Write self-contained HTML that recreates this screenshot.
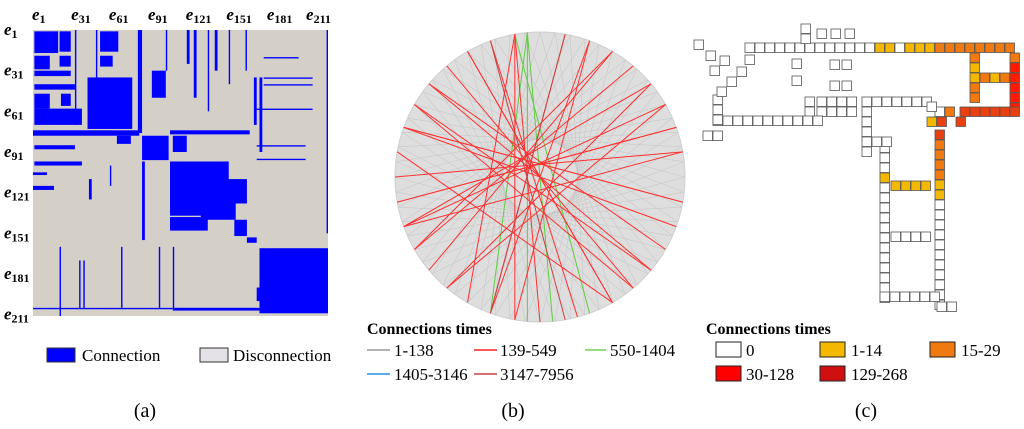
<!DOCTYPE html>
<html><head><meta charset="utf-8">
<style>
html,body{margin:0;padding:0;background:#fff;}
svg{display:block;font-family:"Liberation Serif",serif;}
</style></head>
<body>
<svg id="fig" width="1024" height="429" viewBox="0 0 1024 429" xmlns="http://www.w3.org/2000/svg">
  <g id="panelA">
    <rect x="33" y="30" width="295" height="286" fill="#d4d0c8"/>
    <g id="matBlocks"></g>
    <g id="matTicks" font-weight="bold" font-style="italic" font-size="17"></g>
  </g>
  <g id="panelB">
    <circle cx="540" cy="177" r="145" fill="#dedede" stroke="#cfcfcf"/>
    <g id="chords"></g>
  </g>
  <g id="panelC">
    <g id="cells"></g>
  </g>
  <g font-size="17">
    <rect x="47" y="348" width="28" height="14" fill="#0000ff" stroke="#333"/>
    <text x="82" y="361">Connection</text>
    <rect x="200" y="348" width="28" height="14" fill="#e4e2e6" stroke="#333"/>
    <text x="233" y="361">Disconnection</text>
  </g>
  <g font-size="17">
    <text x="367" y="334" font-weight="bold" font-size="16">Connections times</text>
    <line x1="367" y1="350" x2="390" y2="350" stroke="#999" stroke-width="1.5"/>
    <text x="394" y="356">1-138</text>
    <line x1="474" y1="350" x2="497" y2="350" stroke="#ff2020" stroke-width="1.5"/>
    <text x="500" y="356">139-549</text>
    <line x1="585" y1="350" x2="606" y2="350" stroke="#70d050" stroke-width="1.5"/>
    <text x="610" y="356">550-1404</text>
    <line x1="367" y1="374" x2="390" y2="374" stroke="#2090e0" stroke-width="1.5"/>
    <text x="394" y="380">1405-3146</text>
    <line x1="474" y1="374" x2="497" y2="374" stroke="#c84040" stroke-width="1.5"/>
    <text x="500" y="380">3147-7956</text>
  </g>
  <g font-size="17">
    <text x="706" y="334" font-weight="bold" font-size="16">Connections times</text>
    <rect x="716" y="342" width="25" height="15" fill="#fff" stroke="#222"/>
    <text x="746" y="356">0</text>
    <rect x="820" y="342" width="25" height="15" fill="#f5b800" stroke="#222"/>
    <text x="851" y="356">1-14</text>
    <rect x="930" y="342" width="25" height="15" fill="#f07a10" stroke="#222"/>
    <text x="961" y="356">15-29</text>
    <rect x="716" y="366" width="25" height="15" fill="#ff0000" stroke="#222"/>
    <text x="746" y="380">30-128</text>
    <rect x="820" y="366" width="25" height="15" fill="#d01010" stroke="#222"/>
    <text x="851" y="380">129-268</text>
  </g>
  <text x="145" y="417" font-size="20" text-anchor="middle">(a)</text>
  <text x="513" y="417" font-size="20" text-anchor="middle">(b)</text>
  <text x="866" y="417" font-size="20" text-anchor="middle">(c)</text>
</svg>
<script>
const NS="http://www.w3.org/2000/svg";
// ---- panel (a) data
const matTickLabels=["1","31","61","91","121","151","181","211"];
const colTickIdx=[0,28,55,83,110,139,168,196];
const rowTickIdx=[0,30,60,90,120,150,180,210];
const matBlocks=[
 [1,18,1,17],[19,27,1,16],[48,61,1,16],[1,12,19,29],[19,27,19,27],[48,57,19,27],
 [39,71,35,73],[1,12,47,58],[20,27,47,56],[1,35,58,70],[1,27,30,34],[1,30,40,44],
 [78,97,78,96],[98,140,97,137],[120,145,110,140],[144,153,110,128],[144,153,140,152],
 [98,125,138,148],[100,110,78,90],
 [162,211,161,209],[160,175,190,200],[0,76,74,78],[75,78,0,76],[98,155,74,77],
 [78,80,97,155],[153,160,153,157],[0,15,115,118],[0,10,105,107],[1,35,97,100],
 [60,70,78,84],[1,30,85,88],[85,95,30,50]
];
const matLines=[
 [40,42,110,125],[55,56,100,115],[95,96,0,30],[110,112,0,25],[125,126,0,60],[140,141,0,40],
 [152,153,0,30],[165,190,20,21],[165,200,35,36],[165,200,40,41],[210,211,0,150],
 [19,20,160,211],[33,34,170,205],[36,37,170,205],[63,64,160,205],[90,91,160,205],
 [100,101,160,205],[0,160,205,206],[100,170,205,207],[160,200,58,59],[160,195,85,86],[160,195,95,96],
 [115,117,0,50],[130,132,0,30],[158,160,35,70],[162,164,35,90],[30,31,0,70],[45,46,0,60]
];
const mx=i=>33+i*295/211, my=j=>30+j*286/211;
const mb=document.getElementById('matBlocks');
function addRect(g,x,y,w,h,fill){const r=document.createElementNS(NS,'rect');r.setAttribute('x',x);r.setAttribute('y',y);r.setAttribute('width',w);r.setAttribute('height',h);r.setAttribute('fill',fill);g.appendChild(r);return r;}
matBlocks.forEach(b=>{
 const r=addRect(mb,mx(b[0]),my(b[2]),mx(b[1])-mx(b[0]),my(b[3])-my(b[2]),'#0000ff');
 
 
});
matLines.forEach(b=>{
 const r=addRect(mb,mx(b[0]),my(b[2]),mx(b[1])-mx(b[0]),my(b[3])-my(b[2]),'#0000ff');
 
 
});
const mt=document.getElementById('matTicks');
matTickLabels.forEach((lab,n)=>{
 const t=document.createElementNS(NS,'text');t.setAttribute('x',mx(colTickIdx[n])-1);t.setAttribute('y',20);
 t.innerHTML='e<tspan font-size="12" font-style="normal" dy="3">'+lab+'</tspan>';
 
 
 mt.appendChild(t);
 const s=document.createElementNS(NS,'text');s.setAttribute('x',4);s.setAttribute('y',my(rowTickIdx[n])+5);
 s.innerHTML='e<tspan font-size="12" font-style="normal" dy="3">'+lab+'</tspan>';
 
 
 mt.appendChild(s);
});
// ---- panel (b) data
const chordFrom=[95,95,95,100,100,100,60,40,20,140,160,180,200,220,250,270,300,320,340,10,30,70,120,150,170,230,260,285,310,350,80,110,130,190,210];
const chordTo  =[265,275,250,290,260,240,210,200,190,330,350,10,30,60,80,100,120,140,160,200,230,250,300,320,300,40,70,110,150,160,250,280,310,20,50];
const chordClass=[2,2,2,2,1,1,1,1,1,1,1,1,1,1,1,1,1,1,1,1,1,1,1,1,1,1,1,1,1,1,4,4,1,1,1];
const classColor=['#999','#ff3030','#60cc40','#2090e0','#c84040'];
const ch=document.getElementById('chords');
const cx=540,cy=177,R=145;
const px=a=>cx+R*Math.cos(a*Math.PI/180), py=a=>cy-R*Math.sin(a*Math.PI/180);
for(let a=0;a<360;a+=6){
 const l=document.createElementNS(NS,'line');
 l.setAttribute('x1',px(a));l.setAttribute('y1',py(a));l.setAttribute('x2',px(a+150));l.setAttribute('y2',py(a+150));
 l.setAttribute('stroke','#c8c8c8');l.setAttribute('stroke-width','0.6');
 
 
 ch.appendChild(l);
}
chordFrom.forEach((f,k)=>{
 const l=document.createElementNS(NS,'line');
 l.setAttribute('x1',px(f));l.setAttribute('y1',py(f));l.setAttribute('x2',px(chordTo[k]));l.setAttribute('y2',py(chordTo[k]));
 l.setAttribute('stroke',classColor[chordClass[k]]);l.setAttribute('stroke-width','1');
 
 
 ch.appendChild(l);
});
// ---- panel (c) data
const colorMap={w:'#ffffff',y:'#f5b800',o:'#f07a10',r:'#ff1a00',d:'#e84010'};
const runX=[745,1010,970,980,960,945,935,880,891,891,880,862,862,805,817,817,713,713,801,817,792,830,830,703,937,872];
const runY=[43,53,53,73,107,107,130,143,181,232,292,107,97,97,97,107,116,95,24,29,59,60,81,131,302,137];
const runDX=[10,0,0,10,10,-10,0,0,10,10,10,0,10,0,10,10,10,0,0,14,0,12,12,10,10,10];
const runDY=[0,10,10,0,0,0,10,10,0,0,0,10,0,10,0,0,0,10,10,0,17,0,0,0,0,0];
const runColors=["wwwwwwwwwwwwwyywyyyoooooooo","orrrrr","oyyoo","oyo","dddddd","ow","dooooyywwwwwwwwwww","wwwywwwwwwwwwwww","yyyy","wwww","wwwwww","wwwww","wwwwwww","ww","wwww","wwww","wwwwwwwwwww","www","ww","www","ww","ww","ww","ww","ww","ww"];
const cg=document.getElementById('cells');
runX.forEach((x0,k)=>{
 const cols=runColors[k];
 for(let n=0;n<cols.length;n++){
  const r=addRect(cg,x0+runDX[k]*n,runY[k]+runDY[k]*n,9.5,9.5,colorMap[cols[n]]);
  r.setAttribute('stroke','#555');r.setAttribute('stroke-width','0.8');
  
  
 }
});
[[717,87],[727,77],[737,67],[745,55],[694,40],[706,51],[720,56],[710,66],[956,117],[937,117],[927,102],[927,117]].forEach((p,k)=>{
 const r=addRect(cg,p[0],p[1],9.5,9.5,k==8||k==9?'#e84010':(k==11?'#f5b800':'#fff'));
 r.setAttribute('stroke','#555');r.setAttribute('stroke-width','0.8');
 
 
});
</script>
</body></html>
